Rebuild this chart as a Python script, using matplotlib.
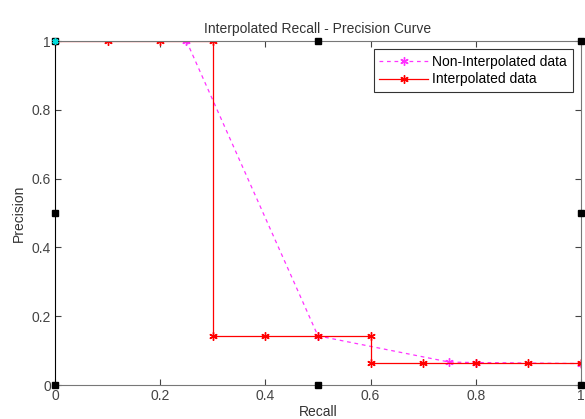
import matplotlib.pyplot as plt

plt.rcParams['font.family'] = ['Liberation Sans', 'DejaVu Sans']

# Non-interpolated precision/recall points
recall_raw = [0.0, 0.25, 0.5, 0.75, 0.8, 1.0]
precision_raw = [1.0, 1.0, 0.143, 0.0667, 0.0655, 0.0625]

# Interpolated (step) curve at the 11 standard recall levels
recall_int = [0.0, 0.1, 0.2, 0.3, 0.3, 0.4, 0.5, 0.6, 0.6, 0.7, 0.8, 0.9, 1.0]
precision_int = [1.0, 1.0, 1.0, 1.0, 0.143, 0.143, 0.143, 0.143,
                 0.064, 0.064, 0.064, 0.064, 0.064]

# selection handles left over from the figure editor
handle_x = [0, 0.5, 1, 0, 1, 0, 0.5, 1]
handle_y = [0, 0, 0, 0.5, 0.5, 1, 1, 1]

star = (6, 2, 0)  # matlab-ish asterisk

fig = plt.figure(figsize=(5.85, 4.19), dpi=100)
ax = fig.add_axes([0.094, 0.081, 0.899, 0.821])

ax.plot(recall_raw[1:], precision_raw[1:], linestyle=(0, (3, 3)), color='#ff33ff',
        linewidth=0.9, marker=star, markersize=6, markeredgewidth=1.0,
        label='Non-Interpolated data')
ax.plot(recall_int, precision_int, '-', color='red', linewidth=0.9,
        marker=star, markersize=6, markeredgewidth=1.0, label='Interpolated data')
ax.plot(handle_x, handle_y, 's', color='black', markersize=5,
        clip_on=False, zorder=6)
ax.plot([recall_raw[0]], [precision_raw[0]], marker=star, color='#00dddd',
        markersize=4.5, markeredgewidth=1.2, clip_on=False, zorder=7)

ax.set_xlim(0, 1)
ax.set_ylim(0, 1)
ax.set_xticks([0, 0.2, 0.4, 0.6, 0.8, 1])
ax.set_yticks([0, 0.2, 0.4, 0.6, 0.8, 1])
ax.set_xticklabels(['0', '0.2', '0.4', '0.6', '0.8', '1'])
ax.set_yticklabels(['0', '0.2', '0.4', '0.6', '0.8', '1'])
ax.tick_params(direction='in', top=True, right=True, length=4,
               labelsize=10, colors='#444444', pad=3)
for side in ['top', 'right', 'bottom']:
    ax.spines[side].set_color('#777777')
ax.spines['left'].set_color('black')

ax.set_title('Interpolated Recall - Precision Curve', fontsize=10, color='#333333', pad=6)
ax.set_xlabel('Recall', fontsize=10, color='#333333', labelpad=1)
ax.set_ylabel('Precision', fontsize=10, color='#333333', labelpad=4)

leg = ax.legend(loc='upper right', fontsize=10, frameon=True, fancybox=False,
                borderaxespad=0.6, handlelength=3.5, handletextpad=0.3,
                borderpad=0.4, labelspacing=0.25)
leg.get_frame().set_edgecolor('black')
leg.get_frame().set_linewidth(0.8)

fig.savefig('out.png', dpi=100)
